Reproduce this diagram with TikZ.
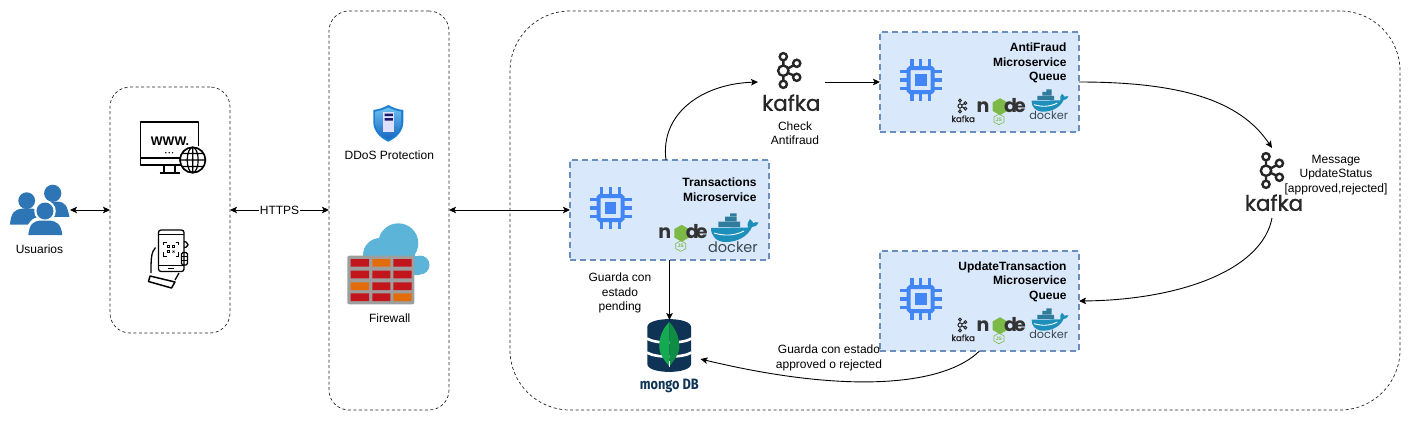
\documentclass[tikz,border=0pt]{standalone}
\usepackage{fontspec}
\setmainfont{Liberation Sans}
\newfontfamily\pop{Poppins}
\newfontfamily\popm[RawFeature={embolden=1.2}]{Poppins}
\newfontfamily\fira{Fira Sans}
\usetikzlibrary{arrows.meta,positioning,calc}
\definecolor{chipblue}{HTML}{4285F4}
\definecolor{msfill}{HTML}{DAE8FC}
\definecolor{msline}{HTML}{6C8EBF}
\definecolor{usr}{HTML}{2E75B6}
\definecolor{mongoblue}{HTML}{0E3355}
\definecolor{leafa}{HTML}{13AA52}
\definecolor{leafb}{HTML}{0F8D45}
\definecolor{whale}{HTML}{1D8FBB}
\definecolor{crate}{HTML}{2F7C9C}
\definecolor{dockertext}{HTML}{3B4A52}
\definecolor{nodegreen}{HTML}{7CB947}
\definecolor{brickred}{HTML}{C3161C}
\definecolor{brickor}{HTML}{E36C0A}
\definecolor{cloudblue}{HTML}{5CB5D8}
\definecolor{shieldout}{HTML}{1D7FD1}
\definecolor{shieldtop}{HTML}{6EC0F0}
\definecolor{shieldbot}{HTML}{1565C0}
\tikzset{
  kw/.store in=\kwidth, kw=2.4pt,
  zone/.style={draw=black!85,line width=0.7pt,dash pattern=on 3pt off 2.5pt,inner sep=0,outer sep=0},
  msbox/.style={draw=msline,fill=msfill,line width=1.3pt,dash pattern=on 6pt off 4pt,minimum width=199pt,minimum height=100pt,inner sep=0,outer sep=0},
  anchorbox/.style={inner sep=0,outer sep=0},
  lbl/.style={font=\fontsize{12}{14.5}\selectfont,align=center,inner sep=0},
  title/.style={font=\bfseries\fontsize{12}{14.5}\selectfont,align=right,inner sep=0,anchor=north east},
  link/.style={draw=black,line width=0.9pt},
  both/.style={link,{Stealth[length=7pt,width=6.5pt,inset=1.5pt]}-{Stealth[length=7pt,width=6.5pt,inset=1.5pt]}},
  one/.style={link,-{Stealth[length=7pt,width=6.5pt,inset=1.5pt]}},
  chipicon/.pic={
    \draw[chipblue,line width=4pt,rounded corners=1.5pt] (-12,-12) rectangle (12,12);
    \fill[chipblue] (-5.8,-5.8) rectangle (5.8,5.8);
    \foreach \o in {-8.8,0,8.8}{
      \draw[chipblue,line width=3.2pt] (\o,-21) -- (\o,-13) (\o,13) -- (\o,21) (-21,\o) -- (-13,\o) (13,\o) -- (21,\o);
    }
  },
  kafkaicon/.pic={
    \draw[black!85,line width=\kwidth]
      (0,-10.5) -- (0,-5) (0,5) -- (0,10.2) (4.5,-2.2) -- (10.5,-5.5) (4.5,2.2) -- (10.5,4.8);
    \draw[black!85,line width=\kwidth] (0,0) circle (5.2) (0,-14) circle (3.6) (0,13.6) circle (3.6) (13.4,-7.4) circle (3.6) (13.4,6.6) circle (3.6);
    \node[inner sep=0,text=black!85,transform shape,font=\popm\fontsize{21.5}{21.5}\selectfont] (txt) at (8,32) {kafka};
  },
  nodelogo/.pic={
    \node[inner sep=0,text=black!80,transform shape,font=\pop\bfseries\fontsize{19}{19}\selectfont] (n) at (-17,0) {n};
    \fill[nodegreen] (0,-8.5) -- (7.4,-4.2) -- (7.4,4.2) -- (0,8.5) -- (-7.4,4.2) -- (-7.4,-4.2) -- cycle;
    \node[inner sep=0,text=black!80,transform shape,font=\pop\bfseries\fontsize{19}{19}\selectfont] (d) at (10.5,-1.5) {d};
    \node[inner sep=0,text=black!80,transform shape,font=\pop\bfseries\fontsize{19}{19}\selectfont] (e) at (20,0) {e};
    \draw[nodegreen,line width=0.6pt] (-1,7.5) -- (4,10.2) -- (4,15.4) -- (-1,18) -- (-6,15.4) -- (-6,10.2) -- cycle;
    \node[inner sep=0,text=nodegreen,transform shape,font=\bfseries\fontsize{5}{5}\selectfont] (js) at (-1,12.8) {JS};
  },
  dockerlogo/.pic={
    \fill[whale] (-23,-2) -- (14,-2.5) .. controls (13,-6) and (14,-9) .. (16,-11)
      .. controls (18,-9) and (19,-8) .. (19,-7) .. controls (21,-8) and (23,-8) .. (24.5,-7.5)
      .. controls (23,-4) and (20,-3) .. (18,-3) .. controls (14,6) and (4,12) .. (-8,12)
      .. controls (-18,12) and (-23,6) .. (-23,-2) -- cycle;
    \fill[crate] (-15.7,-8.3) rectangle (6,-3) (-9,-13.3) rectangle (2.7,-8.8) (-4,-16.7) rectangle (2.7,-13.8);
    \draw[white,line width=0.9pt] (-20,3) .. controls (-10,6) and (0,6) .. (10,1);
    \node[inner sep=0,text=dockertext,transform shape,font=\pop\fontsize{14.5}{14.5}\selectfont] (txt) at (-1,17) {docker};
  },
  stackone/.pic={
    \pic (c) at (-59,-2) {chipicon};
    \pic (n) at (12.2,23.3) {nodelogo};
    \pic (d) at (64.5,20) {dockerlogo};
  },
  stacktwo/.pic={
    \pic (c) at (-128.8,-2) {chipicon};
    \pic[scale=0.4,transform shape,kw=0.95pt] (k) at (-89.5,24) {kafkaicon};
    \pic (n) at (-49.5,24.7) {nodelogo};
    \pic[scale=0.78,transform shape] (d) at (0,20.3) {dockerlogo};
  },
}
\begin{document}
\begin{tikzpicture}[x=1pt,y=-1pt]
\useasboundingbox (0,0) rectangle (1411,421);

% zones
\node[zone,rounded corners=20pt,minimum width=120pt,minimum height=246pt] (client) at (170,210) {};
\node[zone,rounded corners=20pt,minimum width=120pt,minimum height=399pt] (edge) at (389,210.5) {};
\node[zone,rounded corners=60pt,minimum width=890pt,minimum height=399pt] (core) at (955,210.5) {};

% users
\node[anchorbox,minimum width=60pt,minimum height=50pt] (users) at (40,210) {};
\fill[usr] (26.7,200.7) circle (8.4);
\fill[usr] (10,224.5) .. controls (11,212) and (15,209.5) .. (22,208.5) -- (32,208.5) .. controls (38,209.5) and (42,212) .. (44,224.5) -- cycle;
\fill[usr] (52.7,193.3) circle (8.6);
\fill[usr] (35,216.7) .. controls (37,205) and (41,202.5) .. (47,201.5) -- (58,201.5) .. controls (65,202.5) and (67,205) .. (69.5,217) -- cycle;
\fill[white] (45,211) circle (10.8);
\fill[white] (25,236) .. controls (27,221) and (33,218) .. (39,217) -- (51,217) .. controls (58,218) and (63,221) .. (65.5,236) -- cycle;
\fill[usr] (45,211) circle (8.5);
\fill[usr] (28.3,235) .. controls (29.5,224) and (33,221.5) .. (40,220.5) -- (50,220.5) .. controls (57,221.5) and (61,224) .. (62.3,235) -- cycle;
\node[lbl] (userslabel) at (39.5,249) {Usuarios};

% www monitor
\draw[black,line width=1.8pt,line join=round] (182,165) -- (140.5,165) -- (140.5,122) -- (198.5,122) -- (198.5,146);
\draw[black,line width=1.9pt] (140.5,158) -- (180,158);
\draw[black,line width=1.7pt] (164,165.5) -- (164,172.5) (175,165.5) -- (175,172.5);
\draw[black,line width=1.9pt] (159.5,173) -- (180,173);
\node[inner sep=0,font=\bfseries\fontsize{12.5}{12.5}\selectfont] (www) at (170,141.5) {WWW.};
\fill[black] (165.8,152.7) circle (0.8) (169.2,152.7) circle (0.8) (172.6,152.7) circle (0.8);
\draw[black,line width=1.7pt,fill=white] (192.7,160) circle (12.7);
\draw[black,line width=1.2pt] (192.7,160) ellipse (5.5 and 12.7) (192.7,147.3) -- (192.7,172.7) (180,160) -- (205.4,160) (182,153.5) -- (203.4,153.5) (182,166.5) -- (203.4,166.5);

% phone in hand
\draw[black,line width=1.3pt,rounded corners=2.5pt] (158.5,230) rectangle (184,271.5);
\draw[black,line width=0.9pt] (159,234.5) -- (183.5,234.5) (159,265) -- (183.5,265) (168,268) -- (174,268);
\draw[black,line width=1pt] (163.5,245) -- (163.5,242) -- (166.5,242) (175.5,242) -- (178.5,242) -- (178.5,245) (163.5,252) -- (163.5,256) -- (166.5,256) (175.5,256) -- (178.5,256) -- (178.5,252);
\draw[black,line width=0.7pt] (167.5,245.5) rectangle (169.5,247.5) (172.5,245.5) rectangle (174.5,247.5) (167.5,250.5) rectangle (169.5,252.5) (172.5,250.5) -- (174.5,252.5) (174.5,250.5) -- (172.5,252.5);
\draw[black,line width=1.3pt,rounded corners=2pt] (184,241.5) -- (188,242.5) -- (188,247) -- (184,247.5);
\draw[black,line width=1.3pt,rounded corners=1.5pt] (181.5,252.5) rectangle (187.5,265);
\draw[black,line width=1pt] (181.5,256.5) -- (187.5,256.5) (181.5,260.5) -- (187.5,260.5);
\draw[black,line width=1.3pt] (155.5,247.5) .. controls (151,252) and (151,260) .. (151,273);
\draw[black,line width=1.5pt,line join=round] (150,276) -- (175,282) -- (171.5,288) -- (148.5,281.5) -- cycle;
\draw[black,line width=1.3pt] (175,280) -- (179,273);

% shield
\fill[shieldout] (388.3,105) .. controls (383,108) and (378,109.5) .. (373.3,110) -- (373.3,122) .. controls (373.3,131) and (380,138) .. (388.3,141.7) .. controls (396.5,138) and (403.3,131) .. (403.3,122) -- (403.3,110) .. controls (398.5,109.5) and (393.5,108) .. (388.3,105) -- cycle;
\shade[top color=shieldtop,bottom color=shieldbot] (388.3,107.5) .. controls (384,109.5) and (380,111) .. (375.5,111.5) -- (375.5,122) .. controls (375.5,130) and (381,136) .. (388.3,139.3) .. controls (395.5,136) and (401,130) .. (401,122) -- (401,111.5) .. controls (396.5,111) and (392.5,109.5) .. (388.3,107.5) -- cycle;
\fill[white!88!blue] (383.3,111.7) rectangle (394,131.7);
\fill[black!65!blue!90!white] (384.5,113.5) rectangle (392.8,116) (384.5,118) rectangle (392.8,120.5);
\node[lbl] (ddos) at (389.3,155.7) {DDoS Protection};

% firewall
\fill[cloudblue] (398.3,243.3) circle (20);
\fill[cloudblue] (380,255) circle (17);
\fill[cloudblue] (420,265) circle (9.5);
\fill[cloudblue] (385,256) rectangle (420,274.5);
\fill[cloudblue] (405,250) rectangle (415,262);
\fill[black!38,rounded corners=2pt] (347.3,255.7) rectangle (414.3,304.3);
\fill[brickred] (350.7,259) rectangle (369,266.7) (393.3,259) rectangle (411.7,266.7)
  (350.7,270.7) rectangle (369,278.3) (372.3,270.7) rectangle (390.3,278.3) (393.3,270.7) rectangle (411.7,278.3)
  (372.3,282.3) rectangle (390.3,290) (393.3,282.3) rectangle (411.7,290)
  (350.7,293.3) rectangle (369,301) (372.3,293.3) rectangle (390.3,301);
\fill[brickor] (372.3,259) rectangle (390.3,266.7) (350.7,282.3) rectangle (369,290) (393.3,293.3) rectangle (411.7,301);
\node[lbl] (fw) at (389.7,318) {Firewall};

% microservices
\node[msbox] (trans) at (669.5,210) {};
\node[msbox] (anti) at (979.5,82) {};
\node[msbox] (upd) at (979.5,301) {};
\node[title] (transtitle) at (756.7,178) {Transactions\\Microservice};
\node[title] (antititle) at (1066.7,43) {AntiFraud\\Microservice\\Queue};
\node[title] (updtitle) at (1066.7,261.5) {UpdateTransaction\\Microservice\\Queue};
\pic (ts) at (669.5,210) {stackone};
\pic (as) at (1049.5,82) {stacktwo};
\pic (us) at (1049.5,301) {stacktwo};

% kafka brokers
\node[anchorbox,minimum width=67pt,minimum height=64pt] (kafkaone) at (791.5,82) {};
\node[anchorbox,minimum width=62pt,minimum height=70pt] (kafkatwo) at (1272,183) {};
\pic (ko) at (783.3,70.7) {kafkaicon};
\pic (kt) at (1266,170.7) {kafkaicon};
\node[lbl] (checklabel) at (795,133) {Check\\Antifraud};
\node[lbl] (msglabel) at (1336,175) {Message\\UpdateStatus\\{[approved,rejected]}};

% mongo
\node[anchorbox,minimum width=62pt,minimum height=78pt] (mongo) at (669.5,359) {};
\fill[mongoblue] (647.3,327) .. controls (647.3,316.5) and (691,316.5) .. (691,327) -- (691,364) .. controls (691,374.5) and (647.3,374.5) .. (647.3,364) -- cycle;
\draw[white,line width=2.6pt] (647,338.5) .. controls (655,344) and (683,344) .. (691.5,338.5) (647,352.5) .. controls (655,358) and (683,358) .. (691.5,352.5);
\fill[leafa] (669.3,322) .. controls (660,331) and (659,342) .. (659.3,348) .. controls (660,356) and (666,362) .. (669.3,366.5) -- cycle;
\fill[leafb] (669.3,322) .. controls (678,331) and (679.5,342) .. (679.3,348) .. controls (678.5,356) and (672.5,362) .. (669.3,366.5) -- cycle;
\draw[white,line width=0.6pt] (669.3,361) -- (669.3,366.5);
\node[inner sep=0,text=mongoblue,font=\fira\bfseries\fontsize{15}{15}\selectfont] (mongotext) at (669.3,386) {\scalebox{0.85}[1]{mongo DB}};

% connectors
\draw[both] (users.east) -- (client.west);
\draw[both] (client.east) -- node[fill=white,inner sep=1pt,font=\fontsize{12}{14.5}\selectfont] (https) {HTTPS} (edge.west |- client.east);
\draw[both] (edge.east |- trans.west) -- (trans.west);
\draw[one] ([xshift=-3.5pt]trans.north) .. controls (660,115) and (700,84) .. (kafkaone.west);
\draw[one] (kafkaone.east) -- (anti.west);
\draw[one] (anti.east) .. controls (1180,82) and (1240,100) .. (kafkatwo.north);
\draw[one] (kafkatwo.south) .. controls (1262,270) and (1180,300) .. (upd.east);
\draw[one] (upd.south) .. controls (945,385) and (850,395) .. (mongo.east);
\draw[one] (trans.south) -- (mongo.north);

\node[lbl] (pendlabel) at (620,293) {Guarda con\\estado\\pending};
\node[lbl] (rejlabel) at (829,358) {Guarda con estado\\approved o rejected};
\end{tikzpicture}
\end{document}
